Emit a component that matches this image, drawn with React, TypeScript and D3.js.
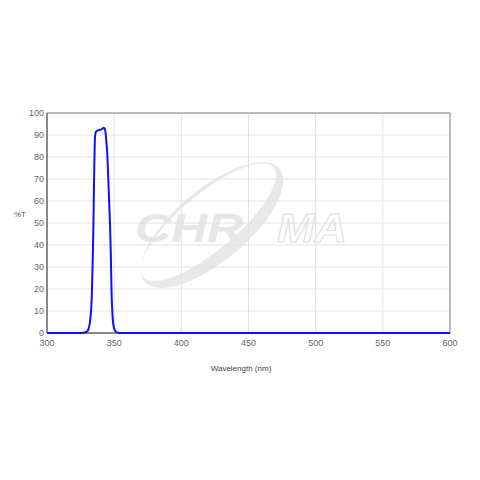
import React from "react";
import * as d3 from "d3";

const wavelengths = [300, 320, 326, 328, 330, 331, 332, 332.5, 333, 333.5, 334, 334.5, 335, 335.5, 336, 336.5, 337.5, 339, 340.5, 341.5, 342.3, 343, 343.6, 344.2, 344.6, 345, 345.5, 346, 346.5, 347, 347.5, 348, 348.5, 349, 349.5, 350, 351, 352, 354, 360, 400, 500, 600];
const transmission = [0, 0, 0.05, 0.2, 0.8, 2, 5, 8, 12, 20, 32, 47, 68, 85, 90.5, 91.5, 92, 92.3, 92.6, 93, 93.3, 92.8, 91, 87, 84, 80, 72, 64, 56, 48, 36, 20, 11, 6, 3.5, 2, 0.8, 0.3, 0.05, 0, 0, 0, 0];
const xTicks = [300, 350, 400, 450, 500, 550, 600];
const yTicks = [0, 10, 20, 30, 40, 50, 60, 70, 80, 90, 100];

export default function App() {
  const W = 480, H = 480;
  const left = 47, right = 450, top = 113, bottom = 333;
  const x = d3.scaleLinear().domain([300, 600]).range([left, right]);
  const y = d3.scaleLinear().domain([0, 100]).range([bottom, top]);
  const pts = wavelengths.map((w, i) => [w, transmission[i]] as [number, number]);
  const line = d3.line<[number, number]>().x(d => x(d[0])).y(d => y(d[1])).curve(d3.curveMonotoneX);
  const font = "'Liberation Sans', Arial, sans-serif";

  // crescent swoosh
  const cx = 212, cy = 225, rot = -40;
  const crescent = `M ${cx - 88} ${cy} A 88 36 0 1 0 ${cx + 88} ${cy} A 88 36 0 1 0 ${cx - 88} ${cy} Z M ${cx - 86} ${cy - 3} A 85 28 0 1 1 ${cx + 84} ${cy - 6} A 85 28 0 1 1 ${cx - 86} ${cy - 3} Z`;

  return (
    <svg width={W} height={H} style={{ position: "absolute", left: 0, top: 0 }} fontFamily={font}>
      <rect width={W} height={H} fill="#fff" />
      {/* watermark */}
      <g>
        <path d={crescent} transform={`rotate(${rot} ${cx} ${cy})`} fill="#e8e8e8" fillRule="evenodd" />
        <text x={135} y={242} fontSize={40} fontWeight="bold" fontStyle="italic" fill="#e6e6e6" textLength={108} lengthAdjust="spacingAndGlyphs">CHR</text>
        <text x={277} y={242} fontSize={40} fontWeight="bold" fontStyle="italic" fill="none" stroke="#dedede" strokeWidth={1} textLength={70} lengthAdjust="spacingAndGlyphs">MA</text>
      </g>
      {/* grid */}
      {yTicks.map(t => (
        <line key={"gy" + t} x1={left} x2={right} y1={y(t)} y2={y(t)} stroke="#e2e2e2" strokeWidth={1} />
      ))}
      {xTicks.map(t => (
        <line key={"gx" + t} x1={x(t)} x2={x(t)} y1={top} y2={bottom} stroke="#e2e2e2" strokeWidth={1} />
      ))}
      {/* frame */}
      <rect x={left} y={top} width={right - left} height={bottom - top} fill="none" stroke="#888" strokeWidth={1} />
      <line x1={left} x2={left} y1={top} y2={bottom} stroke="#888" strokeWidth={2} />
      <line x1={left} x2={right} y1={bottom} y2={bottom} stroke="#888" strokeWidth={2} />
      {/* curve */}
      <path d={line(pts) || ""} fill="none" stroke="#1010ff" strokeWidth={2} strokeLinejoin="round" />
      {/* ticks */}
      {yTicks.map(t => (
        <text key={"ty" + t} x={left - 3} y={y(t) + 3} fontSize={9} fill="#666" textAnchor="end">{t}</text>
      ))}
      {xTicks.map(t => (
        <text key={"tx" + t} x={x(t)} y={346} fontSize={9} fill="#666" textAnchor="middle">{t}</text>
      ))}
      <text x={20} y={217} fontSize={8} fill="#555" textAnchor="middle">%T</text>
      <text x={241} y={371} fontSize={8} fill="#444" textAnchor="middle">Wavelength (nm)</text>
    </svg>
  );
}
